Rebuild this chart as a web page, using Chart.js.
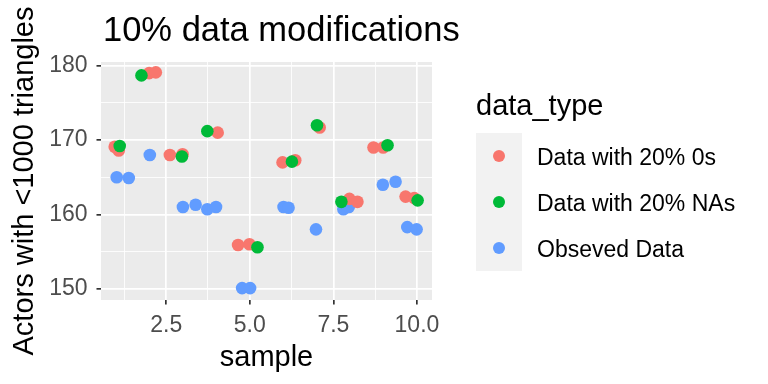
<!DOCTYPE html>
<html>
<head>
<meta charset="utf-8">
<script src="https://cdn.jsdelivr.net/npm/chart.js@4"></script>
<style>
  html, body { margin: 0; padding: 0; background: #fff; }
  #wrap { width: 768px; height: 384px; }
</style>
</head>
<body>
<div id="wrap"><canvas id="scatter" width="768" height="384"></canvas></div>
<script>
const chartTitle = '10% data modifications';
const legendTitle = 'data_type';
const seriesNames = ['Data with 20% 0s', 'Data with 20% NAs', 'Obseved Data'];
const seriesColors = ['#F8766D', '#00BA38', '#619CFF'];

// jittered samples
const zerosX = [0.96, 1.08, 1.99, 2.19, 2.61, 2.99, 4.04, 4.65, 4.99, 5.98, 6.36, 7.09, 7.98, 8.22, 8.70, 8.99, 9.66, 9.92];
const zerosY = [169.1, 168.6, 179.0, 179.1, 168.0, 168.1, 171.0, 155.9, 156.0, 167.0, 167.3, 171.7, 162.1, 161.7, 169.0, 169.0, 162.4, 162.2];
const nasX = [1.11, 1.76, 2.97, 3.73, 5.23, 6.26, 7.01, 7.74, 9.12, 10.02];
const nasY = [169.2, 178.7, 167.8, 171.2, 155.6, 167.1, 172.0, 161.7, 169.3, 161.9];
const obsX = [1.02, 1.38, 2.01, 3.00, 3.38, 3.73, 3.99, 4.77, 5.01, 6.01, 6.16, 6.98, 7.80, 7.96, 8.98, 9.36, 9.71, 9.99];
const obsY = [165.0, 164.9, 168.0, 161.0, 161.3, 160.7, 161.0, 150.1, 150.1, 161.0, 160.9, 158.0, 160.7, 161.0, 164.0, 164.4, 158.3, 158.0];

const toPoints = (xs, ys) => xs.map((x, i) => ({ x: x, y: ys[i] }));
const seriesX = [zerosX, nasX, obsX];
const seriesY = [zerosY, nasY, obsY];

const FONT = "'Liberation Sans', Arial, sans-serif";

// grey panel behind the grid, ggplot style
const panelBg = {
  id: 'panelBg',
  beforeDraw(chart) {
    const { ctx, chartArea: a } = chart;
    ctx.save();
    ctx.fillStyle = '#EBEBEB';
    ctx.fillRect(a.left, a.top, a.right - a.left, a.bottom - a.top);
    ctx.restore();
  }
};

// plot title + legend on the right
const sideText = {
  id: 'sideText',
  afterDraw(chart) {
    const ctx = chart.ctx;
    ctx.save();
    ctx.fillStyle = '#000';
    ctx.textBaseline = 'alphabetic';
    ctx.textAlign = 'left';
    ctx.font = '34.5px ' + FONT;
    ctx.fillText(chartTitle, 103, 41);

    ctx.font = '29px ' + FONT;
    ctx.fillText(legendTitle, 476, 115);

    ctx.fillStyle = '#F2F2F2';
    ctx.fillRect(476, 133, 46, 138);

    ctx.font = '23px ' + FONT;
    chart.data.datasets.forEach((ds, i) => {
      const cy = 156 + i * 46;
      ctx.fillStyle = ds.backgroundColor;
      ctx.beginPath();
      ctx.arc(499, cy, 6, 0, Math.PI * 2);
      ctx.fill();
      ctx.fillStyle = '#000';
      ctx.fillText(ds.label, 537, cy + 8.5);
    });
    ctx.restore();
  }
};

const isMajor = (v, step) => Math.abs(v / step - Math.round(v / step)) < 1e-6;

new Chart(document.getElementById('scatter'), {
  type: 'scatter',
  data: {
    datasets: seriesNames.map((name, i) => ({
      label: name,
      data: toPoints(seriesX[i], seriesY[i]),
      backgroundColor: seriesColors[i],
      borderWidth: 0,
      pointRadius: 6.3,
      pointHoverRadius: 6.3,
      order: [2, 1, 3][i]
    }))
  },
  options: {
    responsive: false,
    animation: false,
    events: [],
    layout: { padding: { top: 62, right: 336, left: 0, bottom: 0 } },
    plugins: {
      legend: { display: false },
      tooltip: { enabled: false }
    },
    scales: {
      x: {
        type: 'linear',
        min: 0.55,
        max: 10.45,
        afterFit: s => { s.height = 84; },
        border: { display: false },
        grid: {
          color: '#FFFFFF',
          lineWidth: c => isMajor(c.tick.value, 2.5) ? 1.7 : 0.85,
          tickColor: c => isMajor(c.tick.value, 2.5) ? '#333333' : 'rgba(0,0,0,0)',
          tickWidth: 1.7,
          tickLength: 4.5
        },
        ticks: {
          stepSize: 1.25,
          includeBounds: false,
          autoSkip: false,
          maxRotation: 0,
          padding: 7,
          color: '#4D4D4D',
          font: { family: FONT, size: 23 },
          callback: v => isMajor(v, 2.5) ? v.toFixed(1) : ''
        },
        title: {
          display: true,
          text: 'sample',
          color: '#000',
          font: { family: FONT, size: 29 },
          padding: { top: 0, bottom: 9 }
        }
      },
      y: {
        type: 'linear',
        min: 148.5,
        max: 180.5,
        afterFit: s => { s.width = 101; },
        border: { display: false },
        grid: {
          color: '#FFFFFF',
          lineWidth: c => isMajor(c.tick.value, 10) ? 1.7 : 0.85,
          tickColor: c => isMajor(c.tick.value, 10) ? '#333333' : 'rgba(0,0,0,0)',
          tickWidth: 1.7,
          tickLength: 4.5
        },
        ticks: {
          stepSize: 5,
          includeBounds: false,
          autoSkip: false,
          padding: 9,
          color: '#4D4D4D',
          font: { family: FONT, size: 23 },
          callback: v => isMajor(v, 10) ? String(v) : ''
        },
        title: {
          display: true,
          text: 'Actors with <1000 triangles',
          color: '#000',
          font: { family: FONT, size: 29 },
          padding: { top: 8, bottom: 0 }
        }
      }
    }
  },
  plugins: [panelBg, sideText]
});
</script>
</body>
</html>
